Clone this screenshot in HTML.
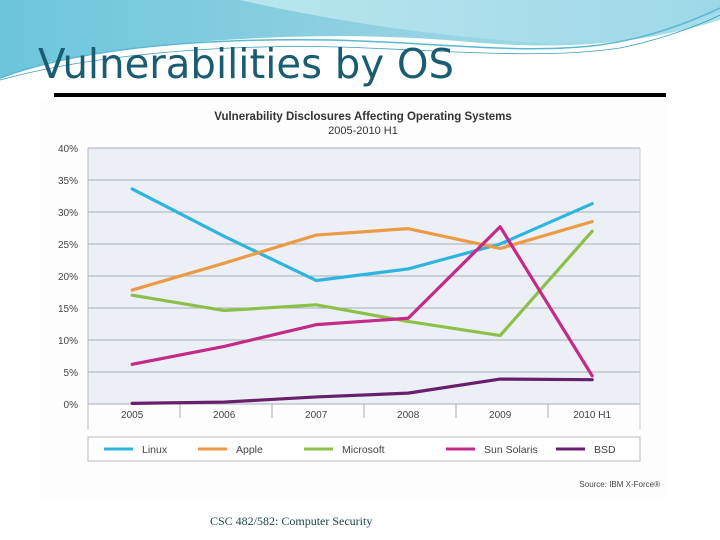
<!DOCTYPE html>
<html><head><meta charset="utf-8"><style>
body{margin:0;width:720px;height:540px;overflow:hidden;background:#fff;font-family:"Liberation Sans",sans-serif}
svg{display:block}
</style></head><body>
<svg width="720" height="540" xmlns="http://www.w3.org/2000/svg">
<defs>
<linearGradient id="wg" x1="0" y1="0" x2="1" y2="0"><stop offset="0" stop-color="#6cc6dc"/><stop offset="0.5" stop-color="#8fd0e0"/><stop offset="1" stop-color="#a9e0ea"/></linearGradient>
<linearGradient id="wg2" x1="0" y1="0" x2="1" y2="0"><stop offset="0" stop-color="#b8e6ee"/><stop offset="1" stop-color="#9ed8e8"/></linearGradient>
</defs>
<g>
<path d="M0,0 H720 V20 C640,45 560,50 470,42 C360,32 260,36 160,45 C90,52 40,62 0,78 Z" fill="url(#wg)"/>
<path d="M240,0 H720 V12 C650,40 580,48 500,40 C400,32 300,14 240,0 Z" fill="url(#wg2)"/>
<path d="M0,78 C80,48 200,38 330,40 C430,42 520,55 600,45 C650,38 690,22 720,8" fill="none" stroke="#5ab8d4" stroke-width="1.5"/>
<path d="M0,80 C90,55 220,44 340,47 C440,50 540,60 620,48 C660,40 700,25 720,15" fill="none" stroke="#3c9cc0" stroke-width="0.8"/>
</g>
<text x="38" y="78" textLength="416" lengthAdjust="spacingAndGlyphs" font-family="'DejaVu Sans Condensed','Liberation Sans Narrow',sans-serif" font-size="41" fill="#1a5d72">Vulnerabilities by OS</text>
<rect x="54" y="93" width="612" height="4" fill="#000"/>
<rect x="40" y="100" width="626" height="398" fill="#fdfdfd"/>
<text x="363" y="120" text-anchor="middle" font-size="11.5" font-weight="bold" fill="#333">Vulnerability Disclosures Affecting Operating Systems</text>
<text x="363" y="134" text-anchor="middle" font-size="11" fill="#333">2005-2010 H1</text>
<g id="plot"></g>
<text x="660" y="487" text-anchor="end" font-size="8" fill="#444">Source: IBM X-Force®</text>
<text x="210" y="525" font-family="'Liberation Serif',serif" font-size="12" fill="#1a3f4a">CSC 482/582: Computer Security</text>
</svg>
<script>
const categories=["2005","2006","2007","2008","2009","2010 H1"];
const yTicks=[0,5,10,15,20,25,30,35,40];
const seriesNames=["Linux","Apple","Microsoft","Sun Solaris","BSD"];
const seriesColors=["#2fb4e0","#ec9a45","#8cc04a","#c42a8a","#6a1f6e"];
const linux=[33.6,26.2,19.3,21.1,25.0,31.3];
const apple=[17.8,22.0,26.4,27.4,24.3,28.5];
const microsoft=[17.0,14.6,15.5,12.9,10.7,27.0];
const solaris=[6.2,9.0,12.4,13.4,27.7,4.4];
const bsd=[0.1,0.3,1.1,1.7,3.9,3.8];
const series=[linux,apple,microsoft,solaris,bsd];
const NS="http://www.w3.org/2000/svg";
const g=document.getElementById("plot");
const L=88,R=640,T=148,B=404;
const band=(R-L)/categories.length;
const xS=i=>L+band*(i+0.48);
const yS=v=>B-(v/40)*(B-T);
function mk(t,a,p){const e=document.createElementNS(NS,t);for(const k in a)e.setAttribute(k,a[k]);(p||g).appendChild(e);return e;}
const bg=mk("rect",{x:L,y:T,width:R-L,height:B-T,fill:"#eceff5"});


mk("line",{x1:L,y1:T,x2:L,y2:B+26,stroke:"#bbb","stroke-width":1});
yTicks.forEach(v=>{
 const ln=mk("line",{x1:L,y1:yS(v),x2:R,y2:yS(v),stroke:"#a9adb5","stroke-width":1});
 
 
 const t=mk("text",{x:78,y:yS(v)+4,"text-anchor":"end","font-size":"10","fill":"#444"});
 t.textContent=v+"%";
 
 
});
mk("line",{x1:R,y1:T,x2:R,y2:B+26,stroke:"#ccc","stroke-width":1});
categories.forEach((c,i)=>{
 if(i>0){mk("line",{x1:L+band*i,y1:B,x2:L+band*i,y2:B+14,stroke:"#aaa","stroke-width":1});}
 const t=mk("text",{x:xS(i),y:B+14,"text-anchor":"middle","font-size":"10","fill":"#444"});
 t.textContent=c;
 
 
});
series.forEach((s,k)=>{
 const p=mk("polyline",{points:s.map((v,i)=>xS(i)+","+yS(v)).join(" "),fill:"none",stroke:seriesColors[k],"stroke-width":3.2,"stroke-linejoin":"round","stroke-linecap":"round"});
 
 
});
const lg=mk("rect",{x:L,y:437,width:R-L,height:24,fill:"#fff",stroke:"#bbb","stroke-width":1});


const lx=[104,198,304,446,556];
seriesNames.forEach((n,k)=>{
 mk("line",{x1:lx[k],y1:449,x2:lx[k]+29,y2:449,stroke:seriesColors[k],"stroke-width":3});
 const t=mk("text",{x:lx[k]+38,y:453,"font-size":"10.5",fill:"#444"});
 t.textContent=n;
 
 
});
</script>
</body></html>
